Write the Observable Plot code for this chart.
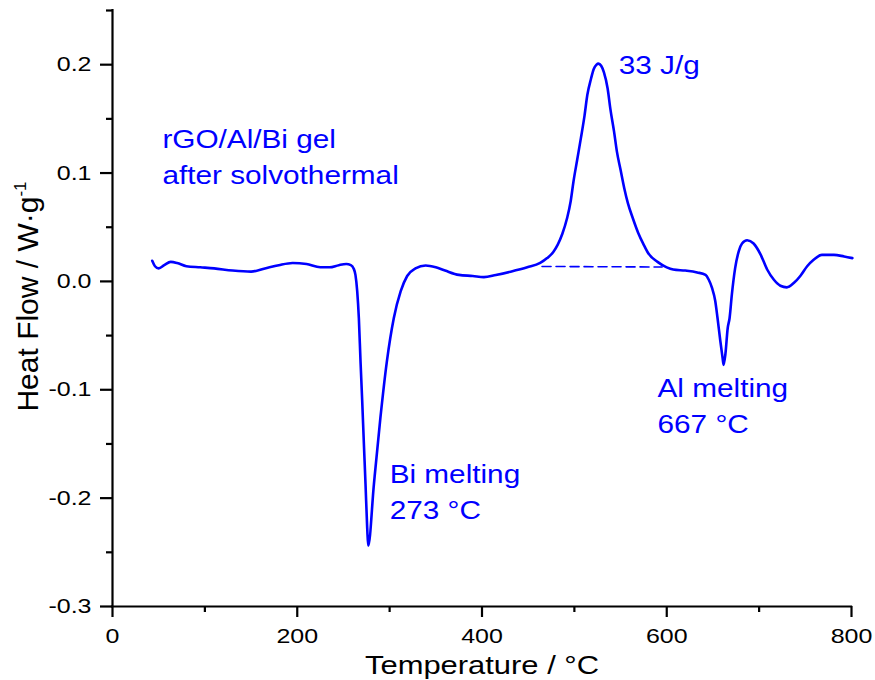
<!DOCTYPE html>
<html>
<head>
<meta charset="utf-8">
<script src="https://cdn.jsdelivr.net/npm/d3@7"></script>
<script src="https://cdn.jsdelivr.net/npm/@observablehq/plot@0.6"></script>
<style>
  html, body { margin: 0; padding: 0; background: #fff; overflow: hidden; }
  svg { display: block; }
</style>
</head>
<body>
<script>
// ---- data ----
const temps = [43,46,50,56,63,70,80,95,110,130,150,165,180,195,210,225,235,245,253,258,261,263,264.9,266.7,268.5,270.3,272,273.9,275.7,276.8,283,290,297,304.5,312,319,328,339,350,360,375,390,402,415,431,449,463,470.5,477,482,487,492,496,499,503,507,511,514,518,521,524,526,529,532,536,539,543,546,550,554,558,563,569,575,580,590,600,607,620,633,642,645.5,649,652.5,655,658,660.5,661.5,663.5,666,668,670.5,674,678,681.5,687,694,701.5,708.7,716,723,730,737.5,745,752,759,768,781,792,801];
const heatFlow = [0.019,0.014,0.012,0.015,0.018,0.017,0.014,0.013,0.012,0.010,0.009,0.012,0.015,0.017,0.016,0.013,0.013,0.015,0.016,0.015,0.012,0.006,-0.009,-0.034,-0.074,-0.110,-0.147,-0.187,-0.227,-0.244,-0.187,-0.126,-0.074,-0.034,-0.009,0.005,0.012,0.0147,0.013,0.010,0.006,0.005,0.004,0.006,0.009,0.013,0.017,0.0215,0.027,0.034,0.044,0.058,0.074,0.092,0.112,0.132,0.153,0.172,0.187,0.196,0.200,0.201,0.199,0.193,0.178,0.159,0.138,0.120,0.103,0.086,0.072,0.059,0.045,0.034,0.026,0.018,0.013,0.011,0.010,0.0083,0.006,0.0015,-0.006,-0.018,-0.034,-0.055,-0.071,-0.077,-0.067,-0.043,-0.034,-0.012,0.012,0.028,0.035,0.038,0.035,0.025,0.011,0.0015,-0.004,-0.0055,-0.0015,0.0055,0.014,0.020,0.0245,0.0245,0.023,0.0215];

// dashed integration baseline under the exothermic peak
const baseT = [465, 595];
const baseHF = [0.0138, 0.0133];

// annotations (anchored at data coordinates: left edge, baseline of last line)
const annoText = ["rGO/Al/Bi gel\nafter solvothermal", "Bi melting\n273 °C", "Al melting\n667 °C", "33 J/g"];
const annoT = [54, 300, 590, 548];
const annoHF = [0.0902, -0.2192, -0.140, 0.1915];

// ticks
const xMajor = [0, 200, 400, 600, 800];
const xMinor = [100, 300, 500, 700];
const yMajor = [-0.3, -0.2, -0.1, 0, 0.1, 0.2];
const yMinor = [-0.25, -0.15, -0.05, 0.05, 0.15, 0.25];
const yTickLabels = ["-0.3", "-0.2", "-0.1", "0.0", "0.1", "0.2"];

const xLabelText = "Temperature / °C";
const yLabelText = "Heat Flow / W·g";
const yLabelSup = "-1";

// ---- tables ----
const curve = temps.map((t, i) => ({T: t, HF: heatFlow[i]}));
const baseline = baseT.map((t, i) => ({T: t, HF: baseHF[i]}));
const annos = annoText.map((s, i) => ({text: s, T: annoT[i], HF: annoHF[i]}));

const BLUE = "#0000ff";

const chart = Plot.plot({
  width: 875,
  height: 680,
  marginLeft: 112,
  marginRight: 24,
  marginTop: 10,
  marginBottom: 74,
  style: {fontFamily: "'Liberation Sans', Arial, sans-serif", color: "black", background: "white", fontSize: "21px"},
  x: {domain: [0, 800]},
  y: {domain: [-0.3, 0.25]},
  marks: [
    Plot.axisY(yMajor, {anchor: "left", tickSize: 12, tickPadding: 9, strokeWidth: 2.2, fontSize: 21,
      tickFormat: d => yTickLabels[yMajor.indexOf(d)], label: null}),
    Plot.axisY(yMinor, {anchor: "left", tickSize: 6, strokeWidth: 2.2, tickFormat: () => "", label: null}),
    Plot.axisX(xMajor, {anchor: "bottom", tickSize: 11, tickPadding: 11, strokeWidth: 2.2, fontSize: 21,
      tickFormat: d => String(d), label: null}),
    Plot.axisX(xMinor, {anchor: "bottom", tickSize: 6, strokeWidth: 2.2, tickFormat: () => "", label: null}),
    Plot.ruleX([0], {strokeWidth: 2.2, strokeLinecap: "square"}),
    Plot.ruleY([-0.3], {strokeWidth: 2.2, strokeLinecap: "square"}),
    Plot.line(baseline, {x: "T", y: "HF", stroke: BLUE, strokeWidth: 1.6, strokeDasharray: "9,5"}),
    Plot.line(curve, {x: "T", y: "HF", stroke: BLUE, strokeWidth: 2.6, curve: "monotone-x"}),
    Plot.text(annos, {x: "T", y: "HF", text: "text", fill: BLUE, fontSize: 25, textAnchor: "start",
      lineAnchor: "bottom", lineHeight: 1.44}),
    Plot.text([xLabelText], {frameAnchor: "bottom", dy: 67, lineAnchor: "bottom", textAnchor: "middle", fontSize: 26}),
    Plot.text([yLabelText], {frameAnchor: "left", rotate: -90, dx: -75, dy: -12, lineAnchor: "bottom",
      textAnchor: "middle", fontSize: 30})
  ]
});

// superscript on the y label
d3.select(chart).selectAll("text").filter(function () { return this.textContent === yLabelText; })
  .each(function () {
    d3.select(this).append("tspan").attr("font-size", 17).attr("dy", -12).text(yLabelSup);
  });

// the reference's horizontal lettering is wider than plain Arial: stretch it horizontally
const S = 1.19;
chart.querySelectorAll("text").forEach(t => {
  const tr = t.getAttribute("transform") || "";
  if (tr.includes("rotate")) return;
  let pre = "";
  const x = t.getAttribute("x");
  if (x !== null && x !== "" && !isNaN(+x)) { pre = `translate(${+x},0) `; t.removeAttribute("x"); }
  t.setAttribute("transform", `${tr} ${pre}scale(${S},1)`.trim());
});

document.body.appendChild(chart);
</script>
</body>
</html>
